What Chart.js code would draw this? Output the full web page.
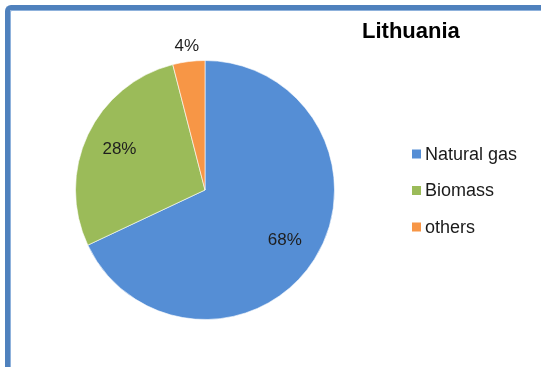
<!DOCTYPE html>
<html>
<head>
<meta charset="utf-8">
<title>Lithuania</title>
<script src="https://cdn.jsdelivr.net/npm/chart.js@4/dist/chart.umd.min.js"></script>
<style>
  html, body { margin: 0; padding: 0; background: #ffffff; overflow: hidden; }
  #wrap { position: relative; width: 541px; height: 367px; }
  #frame {
    position: absolute; left: 5px; top: 5px; width: 700px; height: 500px;
    border-left: 5px solid #4f81bd; border-top: 5px solid #4f81bd;
    border-top-left-radius: 6px; box-sizing: border-box;
    box-shadow: inset 1px 1px 0 #8fb2dc;
  }
  canvas { position: absolute; left: 0; top: 0; }
</style>
</head>
<body>
<div id="wrap">
  <div id="frame"></div>
  <canvas id="chart" width="541" height="367"></canvas>
</div>
<script>
// Fuel shares for heat production
const chartTitle = 'Lithuania';
const categories = ['Natural gas', 'Biomass', 'others'];
const shares = [68, 28, 4];
const sliceColors = ['#558ed5', '#9bbb59', '#f79646'];

// Percentage labels: inside large slices, just outside small ones
const sliceLabels = {
  id: 'sliceLabels',
  afterDatasetsDraw(chart) {
    const ctx = chart.ctx;
    const meta = chart.getDatasetMeta(0);
    const values = chart.data.datasets[0].data;
    const total = values.reduce((a, b) => a + b, 0);
    ctx.save();
    ctx.font = '17px "Liberation Sans", Arial, sans-serif';
    ctx.fillStyle = '#1e1e1e';
    ctx.textAlign = 'center';
    ctx.textBaseline = 'middle';
    meta.data.forEach((arc, i) => {
      const p = arc.getProps(['x', 'y', 'startAngle', 'endAngle', 'outerRadius'], true);
      const mid = (p.startAngle + p.endAngle) / 2;
      const share = values[i] / total;
      const r = share < 0.1 ? p.outerRadius + 15 : p.outerRadius * 0.73;
      ctx.fillText(Math.round(share * 100) + '%', p.x + Math.cos(mid) * r, p.y + Math.sin(mid) * r);
    });
    ctx.restore();
  }
};

// Title and legend placed in the right-hand part of the frame
const sideText = {
  id: 'sideText',
  afterDraw(chart, args, opts) {
    const ctx = chart.ctx;
    ctx.save();
    ctx.fillStyle = '#000000';
    ctx.textAlign = 'left';
    ctx.textBaseline = 'alphabetic';
    ctx.font = 'bold 22px "Liberation Sans", Arial, sans-serif';
    ctx.fillText(opts.title, opts.titleX, opts.titleY);

    const ds = chart.data.datasets[0];
    ctx.font = '18px "Liberation Sans", Arial, sans-serif';
    ctx.textBaseline = 'middle';
    chart.data.labels.forEach((label, i) => {
      const y = opts.legendY + i * opts.legendStep;
      ctx.fillStyle = ds.backgroundColor[i];
      ctx.fillRect(opts.legendX, y - 4.5, 9, 9);
      ctx.fillStyle = '#1a1a1a';
      ctx.fillText(label, opts.legendX + 13, y + 1);
    });
    ctx.restore();
  }
};

new Chart(document.getElementById('chart'), {
  type: 'pie',
  data: {
    labels: categories,
    datasets: [{
      data: shares,
      backgroundColor: sliceColors,
      borderColor: 'rgba(255,255,255,0.6)',
      borderWidth: 1
    }]
  },
  options: {
    responsive: false,
    animation: false,
    layout: { padding: { left: 75, right: 206, top: 60, bottom: 47 } },
    plugins: {
      legend: { display: false },
      title: { display: false },
      tooltip: { enabled: false },
      sideText: { title: chartTitle, titleX: 362, titleY: 38, legendX: 412, legendY: 154, legendStep: 36.5 }
    }
  },
  plugins: [sliceLabels, sideText]
});
</script>
</body>
</html>
